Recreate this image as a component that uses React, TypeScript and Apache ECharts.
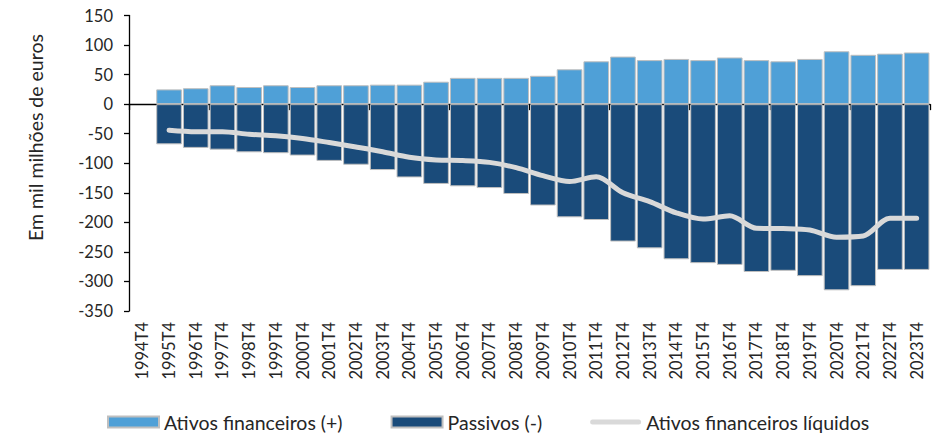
import React, { useEffect, useRef } from "react";
import * as echarts from "echarts";

const categories = [
  "1994T4", "1995T4", "1996T4", "1997T4", "1998T4", "1999T4", "2000T4", "2001T4",
  "2002T4", "2003T4", "2004T4", "2005T4", "2006T4", "2007T4", "2008T4", "2009T4",
  "2010T4", "2011T4", "2012T4", "2013T4", "2014T4", "2015T4", "2016T4", "2017T4",
  "2018T4", "2019T4", "2020T4", "2021T4", "2022T4", "2023T4",
];

const ativos = [
  null, 25, 27, 32, 29, 32, 29, 32, 32, 33, 33, 38, 44.5, 44.5, 44.5, 48,
  59, 72.5, 80.5, 74.5, 76.5, 74.5, 79, 74.5, 72.5, 76.5, 89.5, 83.5, 85.5, 87.5,
];

const passivos = [
  null, -68, -74, -77, -81.5, -83, -87, -96, -102.5, -111.5, -124, -135, -139, -142, -152, -171.5,
  -191.5, -196, -232.5, -244, -262.5, -269, -272, -284, -282, -291, -315, -308, -280.5, -280.5,
];

const liquidos = [
  null, -44, -46.5, -46.5, -51, -53.5, -58, -65, -72.5, -80.5, -90, -94.5, -95.5, -98.5, -107.5, -121,
  -131, -123, -150, -165, -184, -194.5, -189, -210, -210.5, -213, -225, -223, -193, -193,
];

const yTicks = { min: -350, max: 150, interval: 50 };

const FONT = "Lato";
const LINE_ICON = "path://M2.5,0 L48.5,0 A2.5,2.5 0 0 1 48.5,5 L2.5,5 A2.5,2.5 0 0 1 2.5,0 Z";

export default function App() {
  const ref = useRef<HTMLDivElement>(null);
  useEffect(() => {
    if (!ref.current) return;
    const chart = echarts.init(ref.current, null, { renderer: "svg" });
    chart.setOption({
      animation: false,
      textStyle: { fontFamily: FONT },
      grid: { left: 129, right: 5, top: 15.5, bottom: 130, containLabel: false },
      legend: {
        left: 107,
        top: 412,
        padding: 0,
        itemWidth: 51,
        itemHeight: 11,
        itemGap: 48,
        symbolKeepAspect: true,
        textStyle: { fontFamily: FONT, fontSize: 19.5, color: "#262626" },
        data: [
          { name: "Ativos financeiros (+)", icon: "rect" },
          { name: "Passivos (-)", icon: "rect" },
          { name: "Ativos financeiros líquidos", icon: LINE_ICON, itemStyle: { color: "#D9D9D9" } },
        ],
      },
      graphic: [
        {
          type: "text",
          x: 35,
          y: 137.5,
          rotation: Math.PI / 2,
          style: {
            text: "Em mil milhões de euros",
            fontFamily: FONT,
            fontSize: 19.5,
            fill: "#262626",
            align: "center",
            verticalAlign: "middle",
          },
        },
      ],
      xAxis: [
        {
          type: "category",
          data: categories,
          position: "bottom",
          axisLine: { show: false, onZero: false },
          axisTick: { show: false },
          axisLabel: {
            rotate: 90,
            interval: 0,
            margin: 11,
            fontSize: 16.5,
            fontFamily: FONT,
            color: "#262626",
          },
        },
        {
          type: "category",
          data: categories,
          position: "top",
          axisLine: { show: true, onZero: true, lineStyle: { color: "#000", width: 1.3 } },
          axisTick: { show: true, inside: true, length: 6, lineStyle: { color: "#000", width: 1.3 } },
          axisLabel: { show: false },
        },
      ],
      yAxis: {
        type: "value",
        min: yTicks.min,
        max: yTicks.max,
        interval: yTicks.interval,
        splitLine: { show: false },
        axisLine: { show: true, lineStyle: { color: "#000", width: 1.3 } },
        axisTick: { show: true, length: 5, lineStyle: { color: "#000", width: 1.3 } },
        axisLabel: { fontSize: 16.5, fontFamily: FONT, color: "#262626", margin: 16 },
      },
      series: [
        {
          name: "Ativos financeiros (+)",
          type: "bar",
          xAxisIndex: 0,
          data: ativos,
          barCategoryGap: "4%",
          barGap: "-100%",
          itemStyle: { color: "#4FA0D7", borderColor: "#BFBFBF", borderWidth: 1 },
        },
        {
          name: "Passivos (-)",
          type: "bar",
          xAxisIndex: 0,
          data: passivos,
          barCategoryGap: "4%",
          barGap: "-100%",
          itemStyle: { color: "#1A4B7A", borderColor: "#BFBFBF", borderWidth: 1 },
        },
        {
          name: "Ativos financeiros líquidos",
          type: "line",
          xAxisIndex: 0,
          data: liquidos,
          smooth: 0.3,
          symbol: "none",
          z: 5,
          lineStyle: { color: "#D9D9D9", width: 5, cap: "round", join: "round" },
          itemStyle: { color: "#D9D9D9" },
        },
      ],
    });
    return () => chart.dispose();
  }, []);
  return (
    <div
      ref={ref}
      style={{ position: "absolute", left: 0, top: 0, width: 935, height: 441 }}
    />
  );
}
